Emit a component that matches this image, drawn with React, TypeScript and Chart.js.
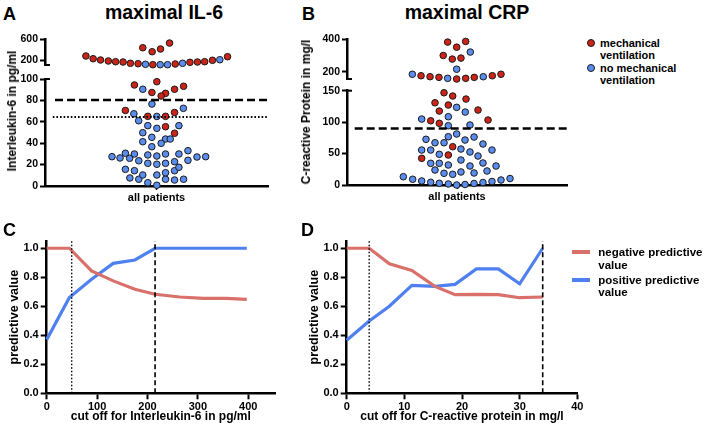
import React, { useEffect, useRef } from 'react';
import { Chart, registerables } from 'chart.js';
Chart.register(...registerables);

const FONT = '"Liberation Sans", Arial, Helvetica, sans-serif';
const RED_DOT = '#cc2418';
const BLUE_DOT = '#5b8def';
const RED_LINE = '#d9706a';
const BLUE_LINE = '#4f80f0';

// ---------- Panel A: maximal IL-6 (x = swarm offset, y = pg/ml) ----------
const aUpperRedX = [-0.633, -0.568, -0.502, -0.432, -0.367, -0.3, -0.234, -0.165, -0.033, 0.168, 0.3, 0.367, 0.432, 0.502, 0.637, -0.123, -0.039, 0.036, 0.117];
const aUpperRedY = [281, 230, 206, 187, 174, 168, 144, 136, 118, 131, 162, 168, 174, 200, 268, 436, 361, 412, 524];
const aUpperBlueX = [-0.099, 0.033, 0.099, 0.234, 0.568];
const aUpperBlueY = [125, 118, 118, 144, 211];
const aLowerRedX = [-0.198, 0.003, -0.041, 0.081, 0.042, 0.162, 0.243, -0.279, -0.078, 0.081, 0.162, 0.081, 0.162];
const aLowerRedY = [94.4, 97.5, 87.4, 86.6, 84.1, 90.4, 93.2, 70.6, 65.1, 65.1, 68.7, 55.4, 49.3];
const aLowerBlueX = [-0.123, -0.041, -0.203, -0.16, 0.003, 0.241, -0.078, 0.003, 0.201, -0.123, -0.042, 0.081, 0.123, -0.123, 0.042, -0.042,
  -0.399, -0.327, -0.279, -0.241, -0.198, -0.078, 0.003, 0.081, 0.201, 0.282, 0.363, 0.441,
  -0.159, -0.078, 0.003, 0.081, 0.162, 0.282,
  -0.279, -0.198, -0.239, -0.159, -0.123, -0.078, 0.003, 0.003, 0.081, 0.081, 0.162, 0.162, 0.243, 0.201];
const aLowerBlueY = [90.4, 76.6, 67.5, 61.0, 65.0, 72.6, 56.4, 53.9, 56.4, 49.8, 45.5, 43.9, 43.9, 41.4, 39.9, 36.7,
  27.4, 26.2, 30.6, 25.9, 29.9, 29.0, 28.0, 29.9, 29.9, 33.0, 27.1, 27.4,
  23.6, 21.2, 20.3, 21.2, 22.7, 24.0,
  15.6, 14.3, 7.5, 6.3, 10.3, 3.1, 0.7, 10.3, 6.3, 12.4, 5.6, 14.3, 6.3, 17.5];
const aUpperTicks = [200, 600];
const aLowerTicks = [0, 20, 40, 60, 80, 100];
const aDashedCut = 80.4;
const aDottedCut = 64.5;

// ---------- Panel B: maximal CRP (mg/l) ----------
const bUpperRedX = [-0.085, -0.003, 0.079, -0.125, -0.043, 0.036, -0.327, -0.245, -0.164, -0.003, 0.079, 0.157, 0.321, 0.4];
const bUpperRedY = [381, 350, 385, 299, 277, 283, 175, 169, 165, 155, 159, 165, 175, 184];
const bUpperBlueX = [0.121, -0.003, -0.406, -0.085, 0.239];
const bUpperBlueY = [320, 215, 184, 159, 169];
const bLowerRedX = [-0.118, -0.039, -0.2, -0.079, -0.161, -0.239, -0.161, -0.039, -0.079, -0.321, 0.082, 0.191, 0.282];
const bLowerRedY = [146.7, 141.5, 130.8, 127.2, 117.6, 102.2, 98.1, 60.9, 47.7, 42.4, 136.7, 119.2, 103.3];
const bLowerBlueX = [-0.003, -0.079, -0.321, -0.079, -0.003, -0.282, -0.2, -0.118, -0.079, -0.321, -0.239, -0.161, -0.239, -0.161, -0.079, -0.2, -0.118, -0.039,
  -0.488, -0.403, -0.321, -0.239, -0.161, -0.079, -0.003, 0.073, 0.155, 0.236, 0.318, 0.4, 0.482,
  0.075, 0.118, 0.073, 0.155, 0.236, 0.036, 0.118, 0.191, 0.318, 0.036, 0.118, 0.236, 0.036, 0.155, 0.355, 0.273];
const bLowerBlueY = [123.5, 108.6, 104.9, 94.3, 81.1, 72.7, 67.2, 67.2, 76.8, 55.6, 55.6, 48.8, 34.5, 34.5, 31.8, 23.8, 18.6, 17.0,
  13.2, 9.1, 6.4, 4.3, 2.7, 1.6, 0, 0.8, 2.4, 4.0, 5.6, 7.9, 10.3,
  116, 95.4, 71.5, 76.3, 65.2, 57.2, 52.5, 46.1, 55.6, 39.7, 30.2, 35.0, 20.7, 19.1, 30.2, 22.3];
const bUpperTicks = [200, 400];
const bLowerTicks = [0, 50, 100, 150];
const bDashedCut = 90;

// ---------- Panel C: predictive value vs IL-6 cut off ----------
const cNpvX = [0, 45, 89, 132, 175, 215, 264, 311, 357, 397];
const cNpvY = [1.0, 1.0, 0.844, 0.775, 0.717, 0.683, 0.664, 0.655, 0.655, 0.648];
const cPpvX = [0, 45, 89, 132, 175, 215, 397];
const cPpvY = [0.37, 0.66, 0.787, 0.896, 0.919, 1.0, 1.0];
const cXTicks = [0, 100, 200, 300, 400];
const cDotted = 49.6;
const cDashed = 215;

// ---------- Panel D: predictive value vs CRP cut off ----------
const dNpvX = [0, 3.9, 7.4, 11.3, 15.3, 18.8, 22.5, 26.3, 30.0, 34.0];
const dNpvY = [1.0, 1.0, 0.893, 0.847, 0.737, 0.68, 0.682, 0.68, 0.659, 0.664];
const dPpvX = [0, 3.9, 7.4, 11.3, 15.3, 18.8, 22.5, 26.3, 30.0, 34.0];
const dPpvY = [0.366, 0.499, 0.6, 0.744, 0.737, 0.751, 0.858, 0.858, 0.755, 1.0];
const dXTicks = [0, 10, 20, 30, 40];
const dDotted = 3.9;
const dDashed = 34.0;

const pvTicks = [0, 0.2, 0.4, 0.6, 0.8, 1.0];

// ---------- helpers ----------
const bold = (size: number) => ({ family: FONT, size, weight: 'bold' as const });
const pts = (xs: number[], ys: number[]) => xs.map((x, i) => ({ x, y: ys[i] }));

function dotSet(xs: number[], ys: number[], color: string) {
  return {
    data: pts(xs, ys), backgroundColor: color, borderColor: '#1a1a1a', borderWidth: 1,
    pointRadius: 3.3, pointHoverRadius: 3.3, clip: false, showLine: false,
  };
}

function hookPlugin(where: 'top' | 'bottom') {
  return {
    id: 'breakHook',
    afterDraw(chart: any) {
      const { ctx, chartArea } = chart;
      const y = where === 'top' ? chartArea.top : chartArea.bottom;
      ctx.save();
      ctx.strokeStyle = '#000';
      ctx.lineWidth = 2;
      ctx.beginPath();
      ctx.moveTo(chartArea.left - 1, y);
      ctx.lineTo(chartArea.left + 5, y);
      ctx.stroke();
      ctx.restore();
    },
  };
}

function swarmConfig(o: any) {
  const datasets: any[] = [];
  (o.refs || []).forEach((r: any) => datasets.push({
    data: [{ x: r.x0, y: r.y }, { x: 1, y: r.y }], showLine: true, borderColor: '#000',
    borderWidth: r.w, borderDash: r.dash, pointRadius: 0, clip: false,
  }));
  datasets.push(dotSet(o.redX, o.redY, RED_DOT));
  datasets.push(dotSet(o.blueX, o.blueY, BLUE_DOT));
  return {
    type: 'scatter',
    data: { datasets },
    options: {
      responsive: false, animation: false, events: [],
      layout: { padding: { top: o.padTop, bottom: o.padBottom, right: o.padRight, left: 0 } },
      plugins: { legend: { display: false }, tooltip: { enabled: false } },
      scales: {
        x: {
          type: 'linear', min: -1, max: 1, display: o.showX,
          afterBuildTicks: (s: any) => { s.ticks = [{ value: 0 }]; },
          ticks: { callback: () => 'all patients', font: bold(11), color: '#000', padding: 1, maxRotation: 0, autoSkip: false },
          grid: { drawOnChartArea: false, drawTicks: true, tickLength: 4, tickWidth: 1.5, tickColor: '#000' },
          border: { color: '#000', width: 2.5 },
          afterFit: (s: any) => { s.height = o.xH; },
        },
        y: {
          type: 'linear', min: o.yMin, max: o.yMax,
          afterBuildTicks: (s: any) => { s.ticks = o.yTicks.map((v: number) => ({ value: v })); },
          ticks: { font: bold(10.5), color: '#000', padding: 2, callback: (v: any) => String(v) },
          grid: { drawOnChartArea: false, tickLength: 5, tickWidth: 2, tickColor: '#000' },
          border: { color: '#000', width: 2.5 },
          afterFit: (s: any) => { s.width = o.axisW; },
        },
      },
    },
    plugins: [hookPlugin(o.hook)],
  };
}

function pvConfig(o: any) {
  const vline = (x: number, dash: number[], w: number) => ({
    data: [{ x, y: 0 }, { x, y: 1.05 }], borderColor: '#000', borderWidth: w, borderDash: dash, pointRadius: 0, clip: false,
  });
  return {
    type: 'line',
    data: {
      datasets: [
        vline(o.dotX, [1.5, 2], 1.4),
        vline(o.dashX, [5, 3], 1.6),
        { data: pts(o.npvX, o.npvY), borderColor: RED_LINE, borderWidth: 3.2, pointRadius: 0, tension: 0, clip: false },
        { data: pts(o.ppvX, o.ppvY), borderColor: BLUE_LINE, borderWidth: 3.2, pointRadius: 0, tension: 0, clip: false },
      ],
    },
    options: {
      responsive: false, animation: false, events: [],
      layout: { padding: { top: o.padTop, right: o.padRight, bottom: 0, left: 0 } },
      plugins: { legend: { display: false }, tooltip: { enabled: false } },
      scales: {
        x: {
          type: 'linear', min: 0, max: o.xMax,
          afterBuildTicks: (s: any) => { s.ticks = o.xTicks.map((v: number) => ({ value: v })); },
          ticks: { font: bold(11), color: '#000', padding: 1, maxRotation: 0, autoSkip: false },
          grid: { drawOnChartArea: false, tickLength: 6, tickWidth: 2, tickColor: '#000' },
          border: { color: '#000', width: 2.5 },
          title: { display: true, text: o.xTitle, color: '#000', font: bold(12), padding: { top: 0, bottom: 9.8 } },
          afterFit: (s: any) => { s.height = o.xH; },
        },
        y: {
          type: 'linear', min: 0, max: 1.05,
          afterBuildTicks: (s: any) => { s.ticks = pvTicks.map((v) => ({ value: v })); },
          ticks: { font: bold(11), color: '#000', padding: 2, callback: (v: any) => Number(v).toFixed(1) },
          grid: { drawOnChartArea: false, tickLength: 6, tickWidth: 2, tickColor: '#000' },
          border: { color: '#000', width: 2.5 },
          title: { display: true, text: 'predictive value', color: '#000', font: bold(12.5), padding: { top: 7.5, bottom: 0 } },
          afterFit: (s: any) => { s.width = o.axisW; },
        },
      },
    },
  };
}

function ChartCanvas({ left, top, width, height, config }: any) {
  const ref = useRef<HTMLCanvasElement>(null);
  useEffect(() => {
    const chart = new Chart(ref.current as HTMLCanvasElement, config() as any);
    return () => chart.destroy();
  }, []);
  return <canvas ref={ref} width={width} height={height} style={{ position: 'absolute', left, top, width, height }} />;
}

function Txt({ x, y, children, size, family = FONT, align = 'left', rotate = false }: any) {
  const tx = align === 'center' || rotate ? '-50%' : '0';
  return (
    <div style={{
      position: 'absolute', left: x, top: y,
      transform: `translate(${tx},-50%)${rotate ? ' rotate(-90deg)' : ''}`,
      font: `bold ${size}px ${family}`, lineHeight: 1, whiteSpace: 'nowrap', color: '#000',
    }}>{children}</div>
  );
}

function Dot({ x, y, color }: any) {
  return <div style={{ position: 'absolute', left: x - 4, top: y - 4, width: 6, height: 6, borderRadius: '50%', background: color, border: '1px solid #1a1a1a' }} />;
}

function Swatch({ x, y, color }: any) {
  return <div style={{ position: 'absolute', left: x, top: y - 1.75, width: 18, height: 3.5, background: color }} />;
}

export default function App() {
  return (
    <div style={{ position: 'fixed', left: 0, top: 0, width: 705, height: 434, background: '#fff', overflow: 'hidden' }}>
      <ChartCanvas left={0} top={30} width={275} height={45} config={() => swarmConfig({
        redX: aUpperRedX, redY: aUpperRedY, blueX: aUpperBlueX, blueY: aUpperBlueY,
        yMin: 112, yMax: 600, yTicks: aUpperTicks, axisW: 45, padTop: 9, padBottom: 10, padRight: 7,
        showX: false, xH: 0, hook: 'bottom',
      })} />
      <ChartCanvas left={0} top={70} width={275} height={135} config={() => swarmConfig({
        redX: aLowerRedX, redY: aLowerRedY, blueX: aLowerBlueX, blueY: aLowerBlueY,
        yMin: 0, yMax: 100, yTicks: aLowerTicks, axisW: 45, padTop: 9, padBottom: 0, padRight: 7,
        showX: true, xH: 19, hook: 'top',
        refs: [{ y: aDashedCut, x0: -0.91, dash: [8, 4], w: 2.5 }, { y: aDottedCut, x0: -0.93, dash: [1.6, 2], w: 2 }],
      })} />
      <ChartCanvas left={300} top={30} width={275} height={60} config={() => swarmConfig({
        redX: bUpperRedX, redY: bUpperRedY, blueX: bUpperBlueX, blueY: bUpperBlueY,
        yMin: 155, yMax: 400, yTicks: bUpperTicks, axisW: 47, padTop: 9, padBottom: 11, padRight: 8,
        showX: false, xH: 0, hook: 'bottom',
      })} />
      <ChartCanvas left={300} top={80} width={275} height={125} config={() => swarmConfig({
        redX: bLowerRedX, redY: bLowerRedY, blueX: bLowerBlueX, blueY: bLowerBlueY,
        yMin: 0, yMax: 150, yTicks: bLowerTicks, axisW: 47, padTop: 10.7, padBottom: 0, padRight: 8,
        showX: true, xH: 20, hook: 'top',
        refs: [{ y: bDashedCut, x0: -0.93, dash: [8, 4], w: 2.5 }],
      })} />
      <ChartCanvas left={0} top={232} width={290} height={202} config={() => pvConfig({
        npvX: cNpvX, npvY: cNpvY, ppvX: cPpvX, ppvY: cPpvY, xMax: 453, xTicks: cXTicks,
        dotX: cDotted, dashX: cDashed, xTitle: 'cut off for Interleukin-6 in pg/ml',
        axisW: 46.7, padTop: 9, padRight: 15, xH: 40.7,
      })} />
      <ChartCanvas left={300} top={232} width={290} height={202} config={() => pvConfig({
        npvX: dNpvX, npvY: dNpvY, ppvX: dPpvX, ppvY: dPpvY, xMax: 40, xTicks: dXTicks,
        dotX: dDotted, dashX: dDashed, xTitle: 'cut off for C-reactive protein in mg/l',
        axisW: 46.7, padTop: 9, padRight: 12.7, xH: 40.7,
      })} />

      <Txt x={3} y={14} size={18}>A</Txt>
      <Txt x={302} y={14} size={18}>B</Txt>
      <Txt x={3} y={230} size={18}>C</Txt>
      <Txt x={301} y={230} size={18}>D</Txt>
      <Txt x={164} y={13} size={19.5} align="center">maximal IL-6</Txt>
      <Txt x={467} y={13} size={19.5} align="center">maximal CRP</Txt>
      <Txt x={12} y={111} size={12} rotate>Interleukin-6 in pg/ml</Txt>
      <Txt x={306} y={112} size={12} rotate>C-reactive Protein in mg/l</Txt>

      <Dot x={591} y={42.7} color={RED_DOT} />
      <Txt x={600} y={42.7} size={11}>mechanical</Txt>
      <Txt x={600} y={54.5} size={11}>ventilation</Txt>
      <Dot x={591} y={67.7} color={BLUE_DOT} />
      <Txt x={600} y={67.7} size={11}>no mechanical</Txt>
      <Txt x={600} y={80} size={11}>ventilation</Txt>

      <Swatch x={571.7} y={252} color={RED_LINE} />
      <Txt x={598.3} y={253.3} size={11.5}>negative predictive</Txt>
      <Txt x={598.3} y={266} size={11.5}>value</Txt>
      <Swatch x={571.7} y={280} color={BLUE_LINE} />
      <Txt x={598.3} y={281} size={11.5}>positive predictive</Txt>
      <Txt x={598.3} y={293.3} size={11.5}>value</Txt>
    </div>
  );
}
